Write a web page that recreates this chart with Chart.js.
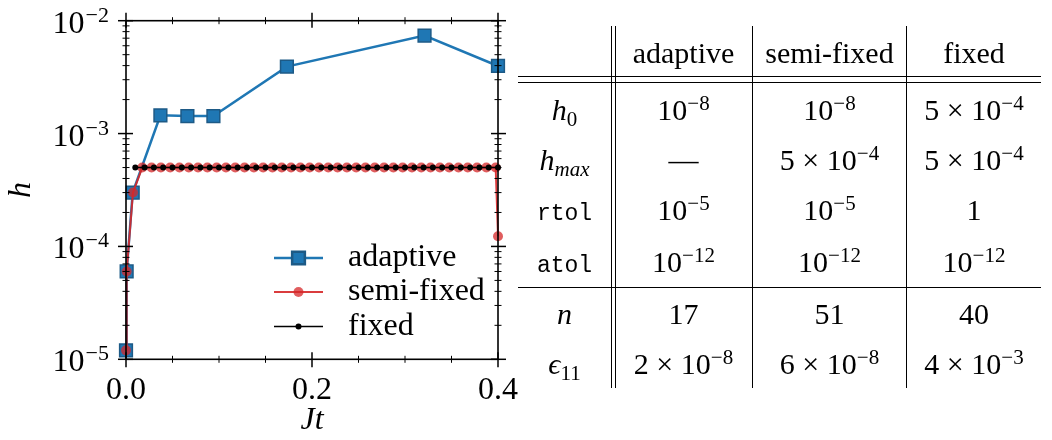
<!DOCTYPE html>
<html>
<head>
<meta charset="utf-8">
<script src="https://cdn.jsdelivr.net/npm/chart.js@4.4.0/dist/chart.umd.min.js"></script>
<style>
  html, body { margin: 0; padding: 0; background: #fff; }
  #wrap { position: relative; width: 1052px; height: 440px; overflow: hidden; }
  #plot { position: absolute; left: 0; top: 0; width: 530px; height: 440px; }
  #tbl { position: absolute; left: 0; top: 0; width: 1052px; height: 440px;
         font-family: 'Liberation Serif', serif; font-size: 30px; color: #000; pointer-events: none; }
  .cell { position: absolute; transform: translate(-50%, -50%); line-height: 1; white-space: nowrap; }
  .sup { font-size: 0.7em; position: relative; top: -0.5em; }
  .sub { font-size: 0.7em; position: relative; top: 0.3em; }
  .mono { font-family: 'Liberation Mono', monospace; font-size: 23px; }
  .it { font-style: italic; }
  .eps { font-style: italic; font-family: 'Liberation Serif', 'DejaVu Serif', serif; }
  .ln { position: absolute; background: #000; }
</style>
</head>
<body>
<div id="wrap">
  <div id="plot"><canvas id="myChart"></canvas></div>
  <div id="tbl"></div>
</div>
<script>
// step size h vs Jt for the three integrators
var methods = ["adaptive", "semi-fixed", "fixed"];

var adaptiveX = [0.0, 0.0007, 0.0072, 0.037, 0.066, 0.094, 0.173, 0.321, 0.4];
var adaptiveH = [1.2e-5, 6.0e-5, 3.0e-4, 1.45e-3, 1.43e-3, 1.43e-3, 3.92e-3, 7.38e-3, 3.97e-3];

var semiX = [0.0, 0.0007, 0.0075,
  0.0175, 0.0275, 0.0375, 0.0475, 0.0575, 0.0675, 0.0775, 0.0875, 0.0975, 0.1075,
  0.1175, 0.1275, 0.1375, 0.1475, 0.1575, 0.1675, 0.1775, 0.1875, 0.1975, 0.2075,
  0.2175, 0.2275, 0.2375, 0.2475, 0.2575, 0.2675, 0.2775, 0.2875, 0.2975, 0.3075,
  0.3175, 0.3275, 0.3375, 0.3475, 0.3575, 0.3675, 0.3775, 0.3875, 0.3975,
  0.4];
var semiH = [1.2e-5, 6.0e-5, 3.0e-4,
  5e-4, 5e-4, 5e-4, 5e-4, 5e-4, 5e-4, 5e-4, 5e-4, 5e-4, 5e-4,
  5e-4, 5e-4, 5e-4, 5e-4, 5e-4, 5e-4, 5e-4, 5e-4, 5e-4, 5e-4,
  5e-4, 5e-4, 5e-4, 5e-4, 5e-4, 5e-4, 5e-4, 5e-4, 5e-4, 5e-4,
  5e-4, 5e-4, 5e-4, 5e-4, 5e-4, 5e-4, 5e-4, 5e-4, 5e-4,
  1.23e-4];

var fixedX = [0.01, 0.02, 0.03, 0.04, 0.05, 0.06, 0.07, 0.08, 0.09, 0.10,
  0.11, 0.12, 0.13, 0.14, 0.15, 0.16, 0.17, 0.18, 0.19, 0.20,
  0.21, 0.22, 0.23, 0.24, 0.25, 0.26, 0.27, 0.28, 0.29, 0.30,
  0.31, 0.32, 0.33, 0.34, 0.35, 0.36, 0.37, 0.38, 0.39, 0.40];
var fixedH = [5e-4, 5e-4, 5e-4, 5e-4, 5e-4, 5e-4, 5e-4, 5e-4, 5e-4, 5e-4,
  5e-4, 5e-4, 5e-4, 5e-4, 5e-4, 5e-4, 5e-4, 5e-4, 5e-4, 5e-4,
  5e-4, 5e-4, 5e-4, 5e-4, 5e-4, 5e-4, 5e-4, 5e-4, 5e-4, 5e-4,
  5e-4, 5e-4, 5e-4, 5e-4, 5e-4, 5e-4, 5e-4, 5e-4, 5e-4, 5e-4];

var xMajor = [0.0, 0.2, 0.4];
var xMinor = [0.05, 0.1, 0.15, 0.25, 0.3, 0.35];
var yDecades = [-5, -4, -3, -2];

// table on the right
var rowLabels = ['<span class="it">h</span><span class="sub">0</span>',
  '<span class="it">h</span><span class="sub it">max</span>',
  '<span class="mono">rtol</span>',
  '<span class="mono">atol</span>',
  '<span class="it">n</span>',
  '<span class="eps">\u03f5</span><span class="sub">11</span>'];
var h0Row   = ["10^-8", "10^-8", "5x10^-4"];
var hmaxRow = ["\u2014", "5x10^-4", "5x10^-4"];
var rtolRow = ["10^-5", "10^-5", "1"];
var atolRow = ["10^-12", "10^-12", "10^-12"];
var nRow    = ["17", "51", "40"];
var epsRow  = ["2x10^-8", "6x10^-8", "4x10^-3"];

function pts(xs, ys) {
    return xs.map(function(x, i) { return {x: x, y: ys[i]}; });
}

Chart.defaults.font.family = "'Liberation Serif', serif";
Chart.defaults.color = "#000";

var frame = {
    id: "frame",
    afterDatasetsDraw: function(chart) {
        var ctx = chart.ctx, a = chart.chartArea;
        var xs = chart.scales.x, ys = chart.scales.y;
        ctx.save();
        ctx.strokeStyle = "#000";
        ctx.lineWidth = 1.6;
        ctx.strokeRect(a.left, a.top, a.right - a.left, a.bottom - a.top);

        function tick(x1, y1, x2, y2, w) {
            ctx.lineWidth = w;
            ctx.beginPath(); ctx.moveTo(x1, y1); ctx.lineTo(x2, y2); ctx.stroke();
        }
        xMajor.forEach(function(v) {
            var px = xs.getPixelForValue(v);
            tick(px, a.bottom - 7, px, a.bottom + 8, 1.5);
            tick(px, a.top - 8, px, a.top + 7, 1.5);
        });
        xMinor.forEach(function(v) {
            var px = xs.getPixelForValue(v);
            tick(px, a.bottom - 3.5, px, a.bottom + 3.5, 1);
            tick(px, a.top - 3.5, px, a.top + 3.5, 1);
        });
        yDecades.forEach(function(e, i) {
            var py = ys.getPixelForValue(Math.pow(10, e));
            tick(a.left - 8, py, a.left + 7, py, 1.5);
            tick(a.right - 7, py, a.right + 8, py, 1.5);
            if (i < yDecades.length - 1) {
                for (var k = 2; k <= 9; k++) {
                    var pm = ys.getPixelForValue(k * Math.pow(10, e));
                    tick(a.left - 3.5, pm, a.left + 3.5, pm, 1);
                    tick(a.right - 3.5, pm, a.right + 3.5, pm, 1);
                }
            }
            // decade label 10^e
            var right = a.left - 17;
            ctx.fillStyle = "#000";
            ctx.textBaseline = "alphabetic";
            ctx.textAlign = "right";
            ctx.font = "22px 'Liberation Serif', serif";
            var ex = "\u2212" + Math.abs(e);
            ctx.fillText(ex, right, py + 1);
            var ew = ctx.measureText(ex).width;
            ctx.font = "32px 'Liberation Serif', serif";
            ctx.fillText("10", right - ew - 1, py + 12);
        });

        // legend
        var rows = [258, 292, 326.5];
        var order = [0, 1, 2];
        ctx.font = "32px 'Liberation Serif', serif";
        ctx.textAlign = "left";
        ctx.textBaseline = "middle";
        order.forEach(function(di, j) {
            var ds = chart.data.datasets[di];
            var y = rows[j];
            ctx.strokeStyle = ds.borderColor;
            ctx.lineWidth = ds.borderWidth;
            ctx.beginPath(); ctx.moveTo(274, y); ctx.lineTo(323, y); ctx.stroke();
            ctx.fillStyle = ds.pointBackgroundColor;
            ctx.strokeStyle = ds.pointBorderColor;
            Chart.helpers.drawPoint(ctx, {pointStyle: ds.pointStyle, radius: ds.pointRadius,
                rotation: 0, borderWidth: ds.pointBorderWidth}, 298.5, y);
            ctx.fillStyle = "#000";
            ctx.fillText(ds.label, 348, y);
        });
        ctx.restore();
    }
};

var ctx = document.getElementById("myChart").getContext("2d");
var myChart = new Chart(ctx, {
    type: "line",
    data: {
        datasets: [
            {
                label: methods[0],
                data: pts(adaptiveX, adaptiveH),
                borderColor: "#1f77b4",
                borderWidth: 2.5,
                pointStyle: "rect",
                pointRadius: 9,
                pointBackgroundColor: "#1f77b4",
                pointBorderColor: "#1d5a86",
                pointBorderWidth: 1.5,
                order: 3,
                clip: false
            },
            {
                label: methods[1],
                data: pts(semiX, semiH),
                borderColor: "rgba(214,39,40,0.9)",
                borderWidth: 2,
                pointStyle: "circle",
                pointRadius: 5,
                pointBackgroundColor: "rgba(214,39,40,0.75)",
                pointBorderColor: "rgba(214,39,40,0)",
                pointBorderWidth: 0,
                order: 2,
                clip: false
            },
            {
                label: methods[2],
                data: pts(fixedX, fixedH),
                borderColor: "#000",
                borderWidth: 1.5,
                pointStyle: "circle",
                pointRadius: 3,
                pointBackgroundColor: "#000",
                pointBorderColor: "#000",
                pointBorderWidth: 0,
                order: 1,
                clip: false
            }
        ]
    },
    options: {
        responsive: true,
        maintainAspectRatio: false,
        animation: false,
        layout: { padding: { top: 20.7, right: 32, bottom: 0, left: 0 } },
        plugins: { legend: { display: false }, tooltip: { enabled: false } },
        elements: { line: { tension: 0 } },
        scales: {
            x: {
                type: "linear",
                min: 0, max: 0.4,
                grid: { display: false, drawTicks: false },
                border: { display: false },
                ticks: {
                    stepSize: 0.2,
                    padding: 12,
                    font: { size: 32 },
                    callback: function(v) { return v.toFixed(1); }
                },
                title: { display: true, text: "Jt", font: { size: 32, style: "italic" }, padding: { top: 0, bottom: 0 } },
                afterFit: function(s) { s.height = 80.7; }
            },
            y: {
                type: "logarithmic",
                min: 1e-5, max: 1e-2,
                grid: { display: false },
                border: { display: false },
                ticks: { display: false },
                title: { display: true, text: "h", font: { size: 32, style: "italic" }, padding: { top: 2, bottom: 0 } },
                afterFit: function(s) { s.width = 126; }
            }
        }
    },
    plugins: [frame]
});

// build the table
function fmt(s) {
    var m = s.match(/^(?:(\d+)x)?10\^-(\d+)$/);
    if (!m) return s;
    var out = m[1] ? m[1] + " \u00d7 " : "";
    return out + '10<span class="sup">\u2212' + m[2] + "</span>";
}
var colCenters = [564.5, 683.5, 829.5, 974];
var rowCenters = [52.5, 110, 160, 210, 262, 314, 364];
var body = [h0Row, hmaxRow, rtolRow, atolRow, nRow, epsRow];
var tbl = document.getElementById("tbl");
var html = "";
function cell(x, y, inner) {
    html += '<div class="cell" style="left:' + x + 'px;top:' + y + 'px">' + inner + "</div>";
}
methods.forEach(function(m, j) { cell(colCenters[j + 1], rowCenters[0], m); });
body.forEach(function(row, i) {
    cell(colCenters[0], rowCenters[i + 1], rowLabels[i]);
    row.forEach(function(v, j) { cell(colCenters[j + 1], rowCenters[i + 1], fmt(v)); });
});
[[76.2, 1.2], [82.2, 1.2], [286.7, 1.4]].forEach(function(l) {
    html += '<div class="ln" style="left:518px;width:523px;top:' + l[0] + 'px;height:' + l[1] + 'px"></div>';
});
[610.5, 614.8, 751.8, 906.2].forEach(function(x) {
    html += '<div class="ln" style="top:26px;height:362px;left:' + x + 'px;width:1.2px"></div>';
});
tbl.innerHTML = html;
</script>
</body>
</html>
